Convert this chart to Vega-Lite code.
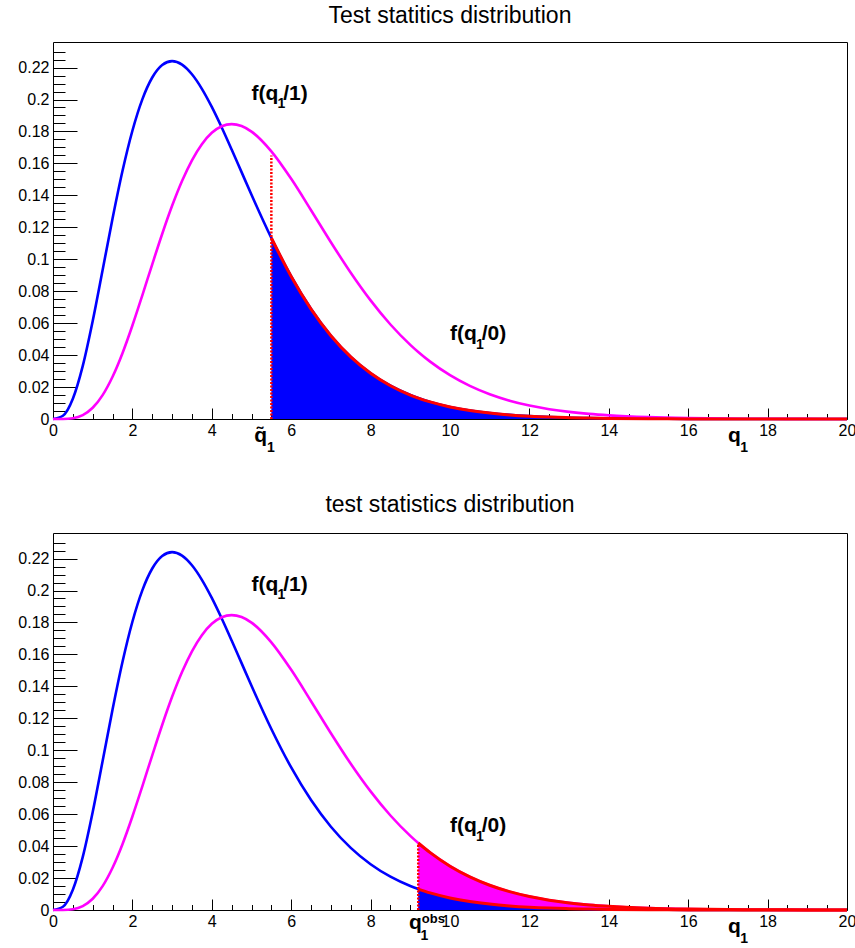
{
  "$schema": "https://vega.github.io/schema/vega-lite/v6.json",
  "background": "white",
  "padding": {"left": 17, "top": 4, "right": 0, "bottom": 0},
  "spacing": 114,
  "bounds": "flush",
  "config": {
    "font": "Liberation Sans",
    "view": {"stroke": "black", "strokeWidth": 1},
    "axis": {"labelFont": "Liberation Sans", "labelFontSize": 16, "labelColor": "black", "tickColor": "black", "tickWidth": 1, "domain": false, "grid": false, "labelFlush": false, "labelOverlap": false, "tickCount": 100}
  },
  "datasets": {
    "curves": [
      {"q": 0, "f1": 0, "f0": 0},
      {"q": 0.25, "f1": 0.002028, "f0": 0.000029},
      {"q": 0.5, "f1": 0.012636, "f0": 0.000512},
      {"q": 0.75, "f1": 0.033213, "f0": 0.002473},
      {"q": 1, "f1": 0.061313, "f0": 0.007028},
      {"q": 1.25, "f1": 0.093263, "f0": 0.014941},
      {"q": 1.5, "f1": 0.125511, "f0": 0.026431},
      {"q": 1.75, "f1": 0.155222, "f0": 0.041191},
      {"q": 2, "f1": 0.180447, "f0": 0.058504},
      {"q": 2.25, "f1": 0.200094, "f0": 0.077411},
      {"q": 2.5, "f1": 0.213763, "f0": 0.096858},
      {"q": 2.75, "f1": 0.221587, "f0": 0.115833},
      {"q": 3, "f1": 0.224042, "f0": 0.133446},
      {"q": 3.25, "f1": 0.221841, "f0": 0.148991},
      {"q": 3.5, "f1": 0.215783, "f0": 0.161962},
      {"q": 3.75, "f1": 0.2067, "f0": 0.172062},
      {"q": 4, "f1": 0.195367, "f0": 0.179161},
      {"q": 4.25, "f1": 0.182499, "f0": 0.183288},
      {"q": 4.5, "f1": 0.168717, "f0": 0.184618},
      {"q": 4.75, "f1": 0.154537, "f0": 0.183386},
      {"q": 5, "f1": 0.140375, "f0": 0.179903},
      {"q": 5.5, "f1": 0.113323, "f0": 0.167555},
      {"q": 6, "f1": 0.089237, "f0": 0.150337},
      {"q": 6.5, "f1": 0.068812, "f0": 0.130716},
      {"q": 7, "f1": 0.052129, "f0": 0.110668},
      {"q": 7.5, "f1": 0.038889, "f0": 0.091561},
      {"q": 8, "f1": 0.028626, "f0": 0.074249},
      {"q": 8.5, "f1": 0.020826, "f0": 0.059159},
      {"q": 9, "f1": 0.014994, "f0": 0.046407},
      {"q": 9.2, "f1": 0.013113, "f0": 0.041944},
      {"q": 9.5, "f1": 0.010696, "f0": 0.035901},
      {"q": 10, "f1": 0.007567, "f0": 0.027428},
      {"q": 10.5, "f1": 0.005313, "f0": 0.020721},
      {"q": 11, "f1": 0.003705, "f0": 0.015494},
      {"q": 11.5, "f1": 0.002568, "f0": 0.011479},
      {"q": 12, "f1": 0.00177, "f0": 0.008432},
      {"q": 12.5, "f1": 0.001213, "f0": 0.006145},
      {"q": 13, "f1": 0.000828, "f0": 0.004447},
      {"q": 13.5, "f1": 0.000562, "f0": 0.003196},
      {"q": 14, "f1": 0.00038, "f0": 0.002283},
      {"q": 15, "f1": 0.000172, "f0": 0.001146},
      {"q": 16, "f1": 0.000077, "f0": 0.000564},
      {"q": 17, "f1": 0.000034, "f0": 0.000272},
      {"q": 18, "f1": 0.000015, "f0": 0.00013},
      {"q": 19, "f1": 0.000006, "f0": 0.000061},
      {"q": 20, "f1": 0.000003, "f0": 0.000028}
    ],
    "cuts": [
      {"panel": "top", "q": 5.5, "lo": 0, "hi": 0.165},
      {"panel": "bottom", "q": 9.2, "lo": 0, "hi": 0.041}
    ],
    "labels": [
      {"panel": "top", "kind": "big", "x": 5.0, "y": 0.2, "text": "f(q"},
      {"panel": "top", "kind": "small", "x": 5.655, "y": 0.1945, "text": "1"},
      {"panel": "top", "kind": "big", "x": 5.8, "y": 0.2, "text": "/1)"},
      {"panel": "top", "kind": "big", "x": 10.0, "y": 0.0497, "text": "f(q"},
      {"panel": "top", "kind": "small", "x": 10.655, "y": 0.0441, "text": "1"},
      {"panel": "top", "kind": "big", "x": 10.8, "y": 0.0497, "text": "/0)"},
      {"panel": "top", "kind": "big", "x": 5.07, "y": -0.0141, "text": "q̃"},
      {"panel": "top", "kind": "small", "x": 5.39, "y": -0.0209, "text": "1"},
      {"panel": "top", "kind": "big", "x": 17.0, "y": -0.0141, "text": "q"},
      {"panel": "top", "kind": "small", "x": 17.31, "y": -0.0209, "text": "1"},
      {"panel": "bottom", "kind": "big", "x": 5.0, "y": 0.2, "text": "f(q"},
      {"panel": "bottom", "kind": "small", "x": 5.655, "y": 0.1945, "text": "1"},
      {"panel": "bottom", "kind": "big", "x": 5.8, "y": 0.2, "text": "/1)"},
      {"panel": "bottom", "kind": "big", "x": 10.0, "y": 0.049, "text": "f(q"},
      {"panel": "bottom", "kind": "small", "x": 10.655, "y": 0.0435, "text": "1"},
      {"panel": "bottom", "kind": "big", "x": 10.8, "y": 0.049, "text": "/0)"},
      {"panel": "bottom", "kind": "big", "x": 8.97, "y": -0.0121, "text": "q"},
      {"panel": "bottom", "kind": "small", "x": 9.26, "y": -0.0188, "text": "1"},
      {"panel": "bottom", "kind": "tiny", "x": 9.29, "y": -0.0083, "text": "obs"},
      {"panel": "bottom", "kind": "big", "x": 17.0, "y": -0.0141, "text": "q"},
      {"panel": "bottom", "kind": "small", "x": 17.31, "y": -0.0209, "text": "1"}
    ]
  },
  "vconcat": [
    {
      "title": {"text": "Test statitics distribution", "fontSize": 23, "fontWeight": "normal", "font": "Liberation Sans", "anchor": "middle", "frame": "group", "baseline": "bottom", "offset": -9, "color": "black"},
      "width": 794,
      "height": 377,
      "layer": [
        {
          "layer": [
            {
              "data": {"name": "curves"},
              "mark": {"type": "line", "color": "#0000ff", "strokeWidth": 2.6, "interpolate": "monotone"},
              "encoding": {
                "x": {"field": "q", "type": "quantitative", "scale": {"domain": [0, 20], "nice": false, "zero": false},
                  "axis": {"orient": "bottom", "title": null, "values": [0, 2, 4, 6, 8, 10, 12, 14, 16, 18, 20], "tickCount": 100, "format": "~g", "tickSize": -11, "labelPadding": 14.5, "labelOverlap": false}},
                "y": {"field": "f1", "type": "quantitative", "scale": {"domain": [0, 0.236], "nice": false},
                  "axis": {"orient": "left", "title": null, "values": [0, 0.02, 0.04, 0.06, 0.08, 0.1, 0.12, 0.14, 0.16, 0.18, 0.2, 0.22], "tickCount": 100, "format": "~g", "tickSize": -24, "labelPadding": 28, "labelOverlap": false}}
              }
            },
            {
              "data": {"name": "curves"},
              "mark": {"type": "line", "color": "#ff00ff", "strokeWidth": 2.6, "interpolate": "monotone"},
              "encoding": {"x": {"field": "q", "type": "quantitative"}, "y": {"field": "f0", "type": "quantitative"}}
            },
            {
              "data": {"name": "curves"},
              "transform": [{"filter": "datum.q >= 5.5"}],
              "mark": {"type": "area", "color": "#0000ff", "interpolate": "monotone"},
              "encoding": {"x": {"field": "q", "type": "quantitative"}, "y": {"field": "f1", "type": "quantitative"}}
            },
            {
              "data": {"name": "curves"},
              "transform": [{"filter": "datum.q >= 5.5"}],
              "mark": {"type": "line", "color": "#ff0000", "strokeWidth": 3, "interpolate": "monotone"},
              "encoding": {"x": {"field": "q", "type": "quantitative"}, "y": {"field": "f1", "type": "quantitative"}}
            },
            {
              "data": {"name": "cuts"},
              "transform": [{"filter": "datum.panel === 'top'"}],
              "mark": {"type": "rule", "color": "#ff0000", "strokeWidth": 2.5, "strokeDash": [2, 1.5]},
              "encoding": {"x": {"field": "q", "type": "quantitative"}, "y": {"field": "lo", "type": "quantitative"}, "y2": {"field": "hi"}}
            },
            {
              "data": {"name": "labels"},
              "transform": [{"filter": "datum.panel === 'top' && datum.kind === 'big'"}],
              "mark": {"type": "text", "font": "Liberation Sans", "fontWeight": "bold", "fontSize": 21, "align": "left", "baseline": "alphabetic", "color": "black"},
              "encoding": {"x": {"field": "x", "type": "quantitative"}, "y": {"field": "y", "type": "quantitative"}, "text": {"field": "text"}}
            },
            {
              "data": {"name": "labels"},
              "transform": [{"filter": "datum.panel === 'top' && datum.kind === 'small'"}],
              "mark": {"type": "text", "font": "Liberation Sans", "fontWeight": "bold", "fontSize": 14, "align": "left", "baseline": "alphabetic", "color": "black"},
              "encoding": {"x": {"field": "x", "type": "quantitative"}, "y": {"field": "y", "type": "quantitative"}, "text": {"field": "text"}}
            }
          ]
        },
        {
          "data": {"name": "curves"},
          "mark": {"type": "point", "opacity": 0},
          "encoding": {
            "x": {"field": "q", "type": "quantitative", "scale": {"domain": [0, 20], "nice": false, "zero": false},
              "axis": {"orient": "bottom", "title": null, "labels": false, "tickCount": 100, "tickSize": -5.5, "values": [0.5, 1, 1.5, 2.5, 3, 3.5, 4.5, 5, 5.5, 6.5, 7, 7.5, 8.5, 9, 9.5, 10.5, 11, 11.5, 12.5, 13, 13.5, 14.5, 15, 15.5, 16.5, 17, 17.5, 18.5, 19, 19.5]}},
            "y": {"field": "f1", "type": "quantitative", "scale": {"domain": [0, 0.236], "nice": false},
              "axis": {"orient": "left", "title": null, "labels": false, "tickCount": 100, "tickSize": -12, "values": [0.005, 0.01, 0.015, 0.025, 0.03, 0.035, 0.045, 0.05, 0.055, 0.065, 0.07, 0.075, 0.085, 0.09, 0.095, 0.105, 0.11, 0.115, 0.125, 0.13, 0.135, 0.145, 0.15, 0.155, 0.165, 0.17, 0.175, 0.185, 0.19, 0.195, 0.205, 0.21, 0.215, 0.225, 0.23]}}
          }
        }
      ],
      "resolve": {"scale": {"x": "independent", "y": "independent"}, "axis": {"x": "independent", "y": "independent"}}
    },
    {
      "title": {"text": "test statistics distribution", "fontSize": 23, "fontWeight": "normal", "font": "Liberation Sans", "anchor": "middle", "frame": "group", "baseline": "bottom", "offset": -7, "color": "black"},
      "width": 794,
      "height": 377,
      "layer": [
        {
          "layer": [
            {
              "data": {"name": "curves"},
              "mark": {"type": "line", "color": "#0000ff", "strokeWidth": 2.6, "interpolate": "monotone"},
              "encoding": {
                "x": {"field": "q", "type": "quantitative", "scale": {"domain": [0, 20], "nice": false, "zero": false},
                  "axis": {"orient": "bottom", "title": null, "values": [0, 2, 4, 6, 8, 10, 12, 14, 16, 18, 20], "tickCount": 100, "format": "~g", "tickSize": -11, "labelPadding": 14.5, "labelOverlap": false}},
                "y": {"field": "f1", "type": "quantitative", "scale": {"domain": [0, 0.236], "nice": false},
                  "axis": {"orient": "left", "title": null, "values": [0, 0.02, 0.04, 0.06, 0.08, 0.1, 0.12, 0.14, 0.16, 0.18, 0.2, 0.22], "tickCount": 100, "format": "~g", "tickSize": -24, "labelPadding": 28, "labelOverlap": false}}
              }
            },
            {
              "data": {"name": "curves"},
              "mark": {"type": "line", "color": "#ff00ff", "strokeWidth": 2.6, "interpolate": "monotone"},
              "encoding": {"x": {"field": "q", "type": "quantitative"}, "y": {"field": "f0", "type": "quantitative"}}
            },
            {
              "data": {"name": "curves"},
              "transform": [{"filter": "datum.q >= 9.2"}],
              "mark": {"type": "area", "color": "#ff00ff", "interpolate": "monotone"},
              "encoding": {"x": {"field": "q", "type": "quantitative"}, "y": {"field": "f0", "type": "quantitative"}}
            },
            {
              "data": {"name": "curves"},
              "transform": [{"filter": "datum.q >= 9.2"}],
              "mark": {"type": "area", "color": "#0000ff", "interpolate": "monotone"},
              "encoding": {"x": {"field": "q", "type": "quantitative"}, "y": {"field": "f1", "type": "quantitative"}}
            },
            {
              "data": {"name": "curves"},
              "transform": [{"filter": "datum.q >= 9.2"}],
              "mark": {"type": "line", "color": "#ff0000", "strokeWidth": 3, "interpolate": "monotone"},
              "encoding": {"x": {"field": "q", "type": "quantitative"}, "y": {"field": "f0", "type": "quantitative"}}
            },
            {
              "data": {"name": "curves"},
              "transform": [{"filter": "datum.q >= 9.2"}],
              "mark": {"type": "line", "color": "#ff0000", "strokeWidth": 3, "interpolate": "monotone"},
              "encoding": {"x": {"field": "q", "type": "quantitative"}, "y": {"field": "f1", "type": "quantitative"}}
            },
            {
              "data": {"name": "cuts"},
              "transform": [{"filter": "datum.panel === 'bottom'"}],
              "mark": {"type": "rule", "color": "#ff0000", "strokeWidth": 2.5, "strokeDash": [2, 1.5]},
              "encoding": {"x": {"field": "q", "type": "quantitative"}, "y": {"field": "lo", "type": "quantitative"}, "y2": {"field": "hi"}}
            },
            {
              "data": {"name": "labels"},
              "transform": [{"filter": "datum.panel === 'bottom' && datum.kind === 'big'"}],
              "mark": {"type": "text", "font": "Liberation Sans", "fontWeight": "bold", "fontSize": 21, "align": "left", "baseline": "alphabetic", "color": "black"},
              "encoding": {"x": {"field": "x", "type": "quantitative"}, "y": {"field": "y", "type": "quantitative"}, "text": {"field": "text"}}
            },
            {
              "data": {"name": "labels"},
              "transform": [{"filter": "datum.panel === 'bottom' && datum.kind === 'small'"}],
              "mark": {"type": "text", "font": "Liberation Sans", "fontWeight": "bold", "fontSize": 14, "align": "left", "baseline": "alphabetic", "color": "black"},
              "encoding": {"x": {"field": "x", "type": "quantitative"}, "y": {"field": "y", "type": "quantitative"}, "text": {"field": "text"}}
            },
            {
              "data": {"name": "labels"},
              "transform": [{"filter": "datum.panel === 'bottom' && datum.kind === 'tiny'"}],
              "mark": {"type": "text", "font": "Liberation Sans", "fontWeight": "bold", "fontSize": 13, "align": "left", "baseline": "alphabetic", "color": "black"},
              "encoding": {"x": {"field": "x", "type": "quantitative"}, "y": {"field": "y", "type": "quantitative"}, "text": {"field": "text"}}
            }
          ]
        },
        {
          "data": {"name": "curves"},
          "mark": {"type": "point", "opacity": 0},
          "encoding": {
            "x": {"field": "q", "type": "quantitative", "scale": {"domain": [0, 20], "nice": false, "zero": false},
              "axis": {"orient": "bottom", "title": null, "labels": false, "tickCount": 100, "tickSize": -5.5, "values": [0.5, 1, 1.5, 2.5, 3, 3.5, 4.5, 5, 5.5, 6.5, 7, 7.5, 8.5, 9, 9.5, 10.5, 11, 11.5, 12.5, 13, 13.5, 14.5, 15, 15.5, 16.5, 17, 17.5, 18.5, 19, 19.5]}},
            "y": {"field": "f1", "type": "quantitative", "scale": {"domain": [0, 0.236], "nice": false},
              "axis": {"orient": "left", "title": null, "labels": false, "tickCount": 100, "tickSize": -12, "values": [0.005, 0.01, 0.015, 0.025, 0.03, 0.035, 0.045, 0.05, 0.055, 0.065, 0.07, 0.075, 0.085, 0.09, 0.095, 0.105, 0.11, 0.115, 0.125, 0.13, 0.135, 0.145, 0.15, 0.155, 0.165, 0.17, 0.175, 0.185, 0.19, 0.195, 0.205, 0.21, 0.215, 0.225, 0.23]}}
          }
        }
      ],
      "resolve": {"scale": {"x": "independent", "y": "independent"}, "axis": {"x": "independent", "y": "independent"}}
    }
  ]
}
